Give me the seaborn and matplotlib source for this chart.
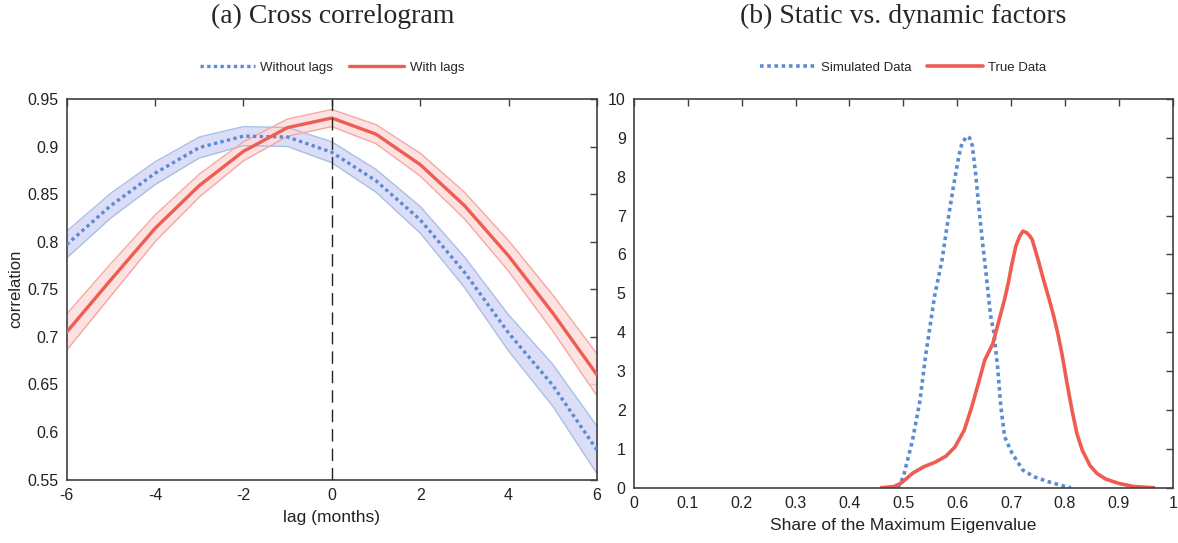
import numpy as np
import pandas as pd
import seaborn as sns
import matplotlib.pyplot as plt

# panel (a): cross correlogram
LAGS = [-6, -5, -4, -3, -2, -1, 0, 1, 2, 3, 4, 5, 6]
WITHOUT_LAGS = [0.797, 0.838, 0.872, 0.899, 0.911, 0.910, 0.894, 0.864, 0.823, 0.768, 0.704, 0.649, 0.581]
WITHOUT_HW = [0.014, 0.013, 0.012, 0.011, 0.010, 0.010, 0.011, 0.012, 0.014, 0.016, 0.019, 0.022, 0.025]
WITH_LAGS = [0.705, 0.760, 0.814, 0.859, 0.895, 0.920, 0.930, 0.913, 0.881, 0.838, 0.785, 0.725, 0.660]
WITH_HW = [0.019, 0.017, 0.014, 0.012, 0.010, 0.009, 0.009, 0.010, 0.012, 0.014, 0.016, 0.019, 0.022]

# panel (b): densities of the eigenvalue share
SIM_X = [0.490, 0.500, 0.517, 0.531, 0.541, 0.558, 0.572, 0.582, 0.593, 0.603, 0.609, 0.618,
         0.623, 0.628, 0.634, 0.640, 0.647, 0.654, 0.662, 0.668, 0.675, 0.681, 0.688, 0.702,
         0.722, 0.743, 0.770, 0.798, 0.811]
SIM_Y = [0.00, 0.28, 1.22, 2.25, 3.37, 4.93, 5.87, 6.81, 7.75, 8.53, 8.87, 9.04,
         9.00, 8.80, 8.10, 7.24, 6.30, 5.45, 4.42, 4.00, 3.10, 2.08, 1.31, 0.88,
         0.45, 0.28, 0.15, 0.04, 0.00]
TRUE_X = [0.459, 0.483, 0.497, 0.517, 0.538, 0.558, 0.579, 0.596, 0.613, 0.627, 0.641, 0.651,
          0.666, 0.678, 0.688, 0.695, 0.702, 0.709, 0.716, 0.722, 0.729, 0.735, 0.739, 0.750,
          0.760, 0.770, 0.779, 0.787, 0.795, 0.803, 0.813, 0.822, 0.832, 0.846, 0.859, 0.876,
          0.900, 0.928, 0.965]
TRUE_Y = [0.00, 0.03, 0.13, 0.37, 0.54, 0.65, 0.81, 1.05, 1.48, 2.08, 2.77, 3.28,
          3.70, 4.33, 4.85, 5.28, 5.79, 6.22, 6.47, 6.60, 6.56, 6.47, 6.39, 5.87,
          5.36, 4.88, 4.42, 3.95, 3.40, 2.75, 2.00, 1.40, 0.97, 0.58, 0.37, 0.22,
          0.11, 0.03, 0.00]

BLUE = "#5B8BD5"
RED = "#EE5C52"

sns.set_theme(style="white")
plt.rcParams["font.family"] = ["Liberation Sans", "DejaVu Sans"]
plt.rcParams["axes.unicode_minus"] = False

fig = plt.figure(figsize=(11.78, 5.43), dpi=100)
ax1 = fig.add_axes([66.7 / 1178, 1 - 479.5 / 543, (597 - 66.7) / 1178, (479.5 - 99) / 543])
ax2 = fig.add_axes([634 / 1178, 1 - 487.7 / 543, (1172.7 - 634) / 1178, (487.7 - 99) / 543])

lags = np.array(LAGS)
wo = np.array(WITHOUT_LAGS)
wi = np.array(WITH_LAGS)
wo_hw = np.array(WITHOUT_HW)
wi_hw = np.array(WITH_HW)

ax1.fill_between(lags, wo - wo_hw, wo + wo_hw, color="#DCDEF8", lw=0, zorder=1)
ax1.plot(lags, wo - wo_hw, color="#A9C0E6", lw=1.0, zorder=2)
ax1.plot(lags, wo + wo_hw, color="#A9C0E6", lw=1.0, zorder=2)
ax1.fill_between(lags, wi - wi_hw, wi + wi_hw, color="#FDDDDD", alpha=0.85, lw=0, zorder=1)
ax1.plot(lags, wi - wi_hw, color="#F5A8A2", lw=1.0, zorder=2)
ax1.plot(lags, wi + wi_hw, color="#F5A8A2", lw=1.0, zorder=2)

df_a = pd.DataFrame({"lag": LAGS * 2,
                     "corr": WITHOUT_LAGS + WITH_LAGS,
                     "series": ["Without lags"] * 13 + ["With lags"] * 13})
sns.lineplot(data=df_a, x="lag", y="corr", hue="series", style="series",
             palette={"Without lags": BLUE, "With lags": RED},
             dashes={"Without lags": (1, 1), "With lags": ""},
             lw=2.4, ax=ax1, zorder=3)
ax1.axvline(0, color="#222222", lw=1.0, dashes=(9, 5), zorder=4)
ax1.set_xlim(-6, 6)
ax1.set_ylim(0.55, 0.95)
ax1.set_xticks([-6, -4, -2, 0, 2, 4, 6])
ax1.set_yticks([0.55, 0.6, 0.65, 0.7, 0.75, 0.8, 0.85, 0.9, 0.95])
ax1.set_yticklabels(["0.55", "0.6", "0.65", "0.7", "0.75", "0.8", "0.85", "0.9", "0.95"])
ax1.set_xlabel("lag (months)", fontsize=12.5, labelpad=5)
ax1.set_ylabel("correlation", fontsize=12, labelpad=3)

df_b = pd.concat([
    pd.DataFrame({"x": SIM_X, "y": SIM_Y, "series": "Simulated Data"}),
    pd.DataFrame({"x": TRUE_X, "y": TRUE_Y, "series": "True Data"}),
])
sns.lineplot(data=df_b, x="x", y="y", hue="series", style="series", sort=False,
             palette={"Simulated Data": BLUE, "True Data": RED},
             dashes={"Simulated Data": (1, 1), "True Data": ""},
             lw=2.6, ax=ax2)
ax2.set_xlim(0, 1)
ax2.set_ylim(0, 10)
ax2.set_xticks(np.arange(0, 1.01, 0.1))
ax2.set_xticklabels(["0", "0.1", "0.2", "0.3", "0.4", "0.5", "0.6", "0.7", "0.8", "0.9", "1"])
ax2.set_yticks(range(0, 11))
ax2.set_xlabel("Share of the Maximum Eigenvalue", fontsize=12.5, labelpad=5)
ax2.set_ylabel("")

for ax in (ax1, ax2):
    for s in ax.spines.values():
        s.set_color("#404040")
        s.set_linewidth(1.2)
    ax.tick_params(direction="in", length=5, width=1, color="#404040",
                   top=True, right=True, labelsize=11.5, labelcolor="#222222", pad=6)
    ax.xaxis.label.set_color("#222222")
    ax.yaxis.label.set_color("#222222")
    h, l = ax.get_legend_handles_labels()
    ax.legend(h, l, loc="lower center", bbox_to_anchor=(0.5, 1.035), ncol=2, frameon=False,
              fontsize=9.5, handlelength=4.2, handletextpad=0.4, columnspacing=1.2)

fig.text(333 / 1178, 1 - 16 / 543, "(a) Cross correlogram", ha="center", va="center",
         fontsize=20, family=["Liberation Serif", "DejaVu Serif"])
fig.text(903 / 1178, 1 - 16 / 543, "(b) Static vs. dynamic factors", ha="center", va="center",
         fontsize=20, family=["Liberation Serif", "DejaVu Serif"])

fig.savefig("out.png", dpi=100)
